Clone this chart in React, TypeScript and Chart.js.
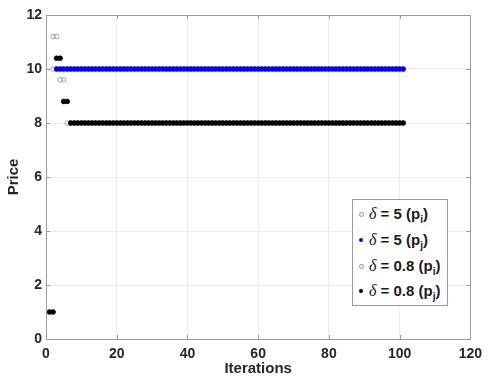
import React, { useEffect, useRef } from 'react';
import { Chart, registerables } from 'chart.js';

Chart.register(...registerables);

const xTicks = [0, 20, 40, 60, 80, 100, 120];
const yTicks = [0, 2, 4, 6, 8, 10, 12];
const xTitle = 'Iterations';
const yTitle = 'Price';
const LAST_ITERATION = 101;

const legendDeltas = ['5', '5', '0.8', '0.8'];
const legendSubs = ['i', 'j', 'i', 'j'];

// δ = 5 (p_i)
const delta5PiStart = 2;
const delta5PiTransient: number[] = [];
const delta5PiSteady = 10;

// δ = 5 (p_j)
const delta5PjStart = 3;
const delta5PjTransient: number[] = [];
const delta5PjSteady = 10;

// δ = 0.8 (p_i)
const delta08PiStart = 2;
const delta08PiTransient = [11.2, 11.2, 9.6, 9.6];
const delta08PiSteady = 8;

// δ = 0.8 (p_j)
const delta08PjStart = 1;
const delta08PjTransient = [1, 1, 10.4, 10.4, 8.8, 8.8];
const delta08PjSteady = 8;

function buildSeries(start: number, transient: number[], steady: number) {
  const pts: { x: number; y: number }[] = [];
  for (let x = start; x <= LAST_ITERATION; x++) {
    const i = x - start;
    pts.push({ x, y: i < transient.length ? transient[i] : steady });
  }
  return pts;
}

const C_D5PI = '#8a8ad8';
const C_D5PJ = '#0000ff';
const C_D08PI = '#8c8c8c';
const C_D08PJ = '#000000';
const markerStyles = [
  { color: C_D5PI, filled: false },
  { color: C_D5PJ, filled: true },
  { color: C_D08PI, filled: false },
  { color: C_D08PJ, filled: true },
];

const boxPlugin = {
  id: 'matlabBox',
  afterDraw(chart: any) {
    const { ctx, chartArea: a, scales } = chart;
    ctx.save();
    ctx.strokeStyle = '#9a9a9a';
    ctx.lineWidth = 1;
    ctx.strokeRect(Math.round(a.left) + 0.5, Math.round(a.top) + 0.5, Math.round(a.right - a.left), Math.round(a.bottom - a.top));
    ctx.beginPath();
    const tl = 4;
    xTicks.forEach((v) => {
      const px = Math.round(scales.x.getPixelForValue(v)) + 0.5;
      ctx.moveTo(px, a.bottom);
      ctx.lineTo(px, a.bottom - tl);
      ctx.moveTo(px, a.top);
      ctx.lineTo(px, a.top + tl);
    });
    yTicks.forEach((v) => {
      const py = Math.round(scales.y.getPixelForValue(v)) + 0.5;
      ctx.moveTo(a.left, py);
      ctx.lineTo(a.left + tl, py);
      ctx.moveTo(a.right, py);
      ctx.lineTo(a.right - tl, py);
    });
    ctx.stroke();
    ctx.restore();
  },
};

export default function App() {
  const ref = useRef<HTMLCanvasElement | null>(null);

  useEffect(() => {
    document.body.style.margin = '0';
    const canvas = ref.current;
    if (!canvas) return;
    const tickFont = { family: "'Liberation Sans', Arial, sans-serif", size: 14, weight: 'bold' as const };
    const titleFont = { family: "'Liberation Sans', Arial, sans-serif", size: 15, weight: 'bold' as const };
    const chart = new Chart(canvas, {
      type: 'scatter',
      data: {
        datasets: [
          {
            label: 'δ = 5 (p_i)',
            data: buildSeries(delta5PiStart, delta5PiTransient, delta5PiSteady),
            pointRadius: 2.3,
            pointBorderWidth: 0.8,
            pointBorderColor: C_D5PI,
            pointBackgroundColor: 'rgba(0,0,0,0)',
            order: 4,
          },
          {
            label: 'δ = 5 (p_j)',
            data: buildSeries(delta5PjStart, delta5PjTransient, delta5PjSteady),
            pointRadius: 2.5,
            pointBorderWidth: 0.5,
            pointBorderColor: C_D5PJ,
            pointBackgroundColor: C_D5PJ,
            order: 3,
          },
          {
            label: 'δ = 0.8 (p_i)',
            data: buildSeries(delta08PiStart, delta08PiTransient, delta08PiSteady),
            pointRadius: 2.3,
            pointBorderWidth: 0.8,
            pointBorderColor: C_D08PI,
            pointBackgroundColor: 'rgba(0,0,0,0)',
            order: 2,
          },
          {
            label: 'δ = 0.8 (p_j)',
            data: buildSeries(delta08PjStart, delta08PjTransient, delta08PjSteady),
            pointRadius: 2.5,
            pointBorderWidth: 0.5,
            pointBorderColor: C_D08PJ,
            pointBackgroundColor: C_D08PJ,
            order: 1,
          },
        ],
      },
      options: {
        responsive: false,
        animation: false,
        events: [],
        layout: { padding: { left: 0, right: 16, top: 15, bottom: 0 } },
        plugins: { legend: { display: false }, tooltip: { enabled: false } },
        scales: {
          x: {
            type: 'linear',
            min: 0,
            max: 120,
            afterFit: (s: any) => { s.height = 39; },
            afterBuildTicks: (s: any) => { s.ticks = xTicks.map((v) => ({ value: v })); },
            ticks: { color: '#262626', font: tickFont, padding: 7, maxRotation: 0 },
            grid: { color: '#ececec', drawTicks: false },
            border: { display: false },
            title: { display: true, text: xTitle, color: '#262626', font: titleFont, padding: { top: 0, bottom: 0 } },
          },
          y: {
            type: 'linear',
            min: 0,
            max: 12,
            afterFit: (s: any) => { s.width = 46; },
            afterBuildTicks: (s: any) => { s.ticks = yTicks.map((v) => ({ value: v })); },
            ticks: { color: '#262626', font: tickFont, padding: 4 },
            grid: { color: '#ececec', drawTicks: false },
            border: { display: false },
            title: { display: true, text: yTitle, color: '#262626', font: titleFont, padding: { top: 5, bottom: 0 } },
          },
        },
      },
      plugins: [boxPlugin],
    });
    return () => chart.destroy();
  }, []);

  const rowTops = [14, 40, 66, 91];

  return (
    <div style={{ position: 'absolute', left: 0, top: 0, width: 489, height: 378 }}>
      <canvas ref={ref} width={489} height={378} style={{ display: 'block', width: 489, height: 378 }} />
      <div
        style={{
          position: 'absolute',
          left: 352,
          top: 199,
          width: 94,
          height: 105,
          border: '1px solid #9a9a9a',
          background: '#ffffff',
        }}
      >
        {legendDeltas.map((d, i) => {
          const m = markerStyles[i];
          return (
            <div key={i} style={{ position: 'absolute', left: 0, top: rowTops[i] - 10, height: 20, width: 94 }}>
              <span
                style={{
                  position: 'absolute',
                  left: 6,
                  top: 8,
                  width: m.filled ? 4 : 3,
                  height: m.filled ? 4 : 3,
                  borderRadius: '50%',
                  border: m.filled ? 'none' : `1px solid ${m.color}`,
                  background: m.filled ? m.color : 'transparent',
                }}
              />
              <span
                style={{
                  position: 'absolute',
                  left: 16,
                  top: 0,
                  whiteSpace: 'nowrap',
                  fontFamily: "'Liberation Sans', Arial, sans-serif",
                  fontWeight: 'bold',
                  fontSize: 15,
                  lineHeight: '20px',
                  color: '#1a1a1a',
                }}
              >
                <span style={{ fontFamily: "'Liberation Serif', 'Times New Roman', serif", fontStyle: 'italic', fontWeight: 'normal', fontSize: 16 }}>δ</span>
                {` = ${d} (p`}
                <span style={{ fontSize: 10, position: 'relative', top: 4 }}>{legendSubs[i]}</span>
                )
              </span>
            </div>
          );
        })}
      </div>
    </div>
  );
}
